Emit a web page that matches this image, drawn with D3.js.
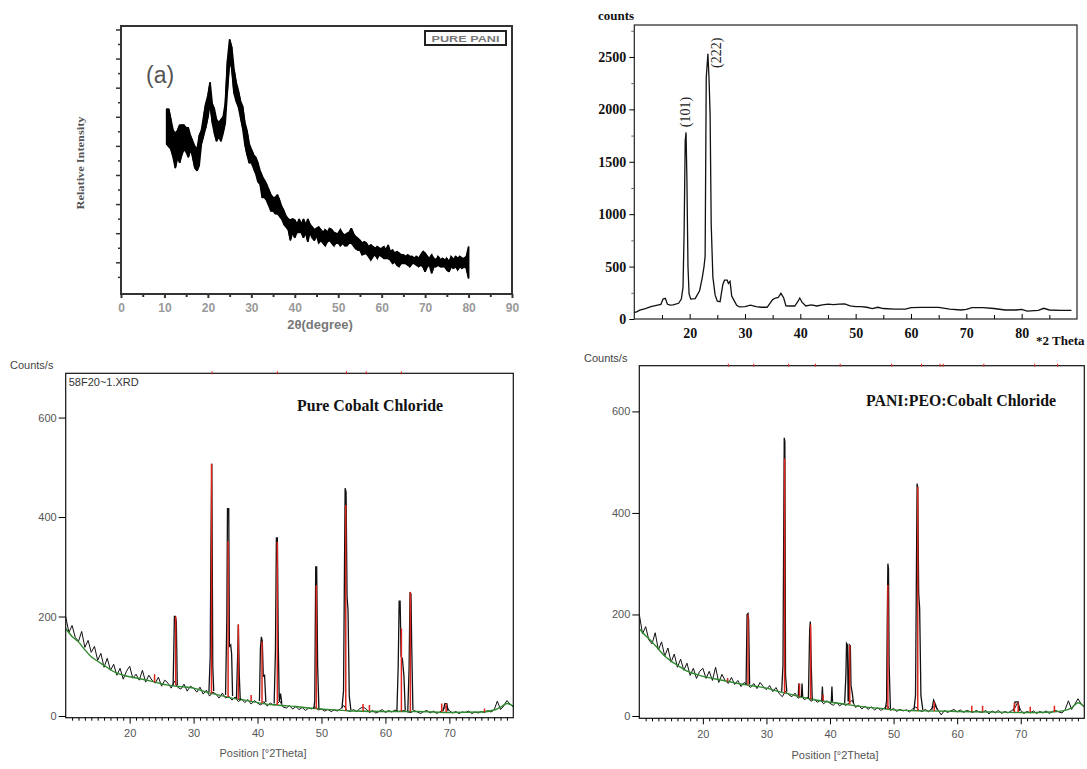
<!DOCTYPE html>
<html><head><meta charset="utf-8">
<script src="https://cdn.jsdelivr.net/npm/d3@7"></script>
<style>body{margin:0;background:#fff}svg{display:block}</style>
</head><body>
<svg id="c" width="1087" height="769"></svg>
<script>
// ---------- Panel (a): Pure PANI ----------
const paniTheta = d3.range(10.5, 80.001, 0.5);
const paniLow = [56,55,54,51,47,51,49,52,54,53, 51,54,51,47,46,48,56,59,62,66,
  71,64,60,57,59,57,60,64,76,87, 84,75,72,70,66,62,56,52,49,49,
  47,45,42,41,36,36,35,33,31,31, 30,30,29,28,26,25,24,20,23,21,
  23,23,23,21,23,19.5,23,21,20,22, 19,20,19,18,19.5,20,19,18,19,19,
  18,19,18,18,19,19,18,17,16.4,16.4, 14.6,15,15,14,12.7,14,14.6,13.3,14.6,14,
  13.3,13.3,13.3,12.7,11.4,12,10.8,10.2,11.4,11.4, 11.4,10.8,10.2,11.4,11.4,10.8,10.2,10.8,10.2,8.3,
  10.2,10.8,7.7,10.2,10.2,10.8,10.2,10.2,10.2,9, 8.3,10.2,9.6,10.2,9,10.2,9.6,10.2,9.6,5.8];
const paniHigh = [69,69,65,61,60,61,63,63,63,62, 62,59,57,55,54,59,61,66,71,74,
  79,71,69,65,64,65,66,71,87,95, 92,84,79,76,72,70,64,61,56,54,
  52,51,49,46,44,42.5,41,39,37,36, 36,37,35,32.6,31,29,28,27.6,28,27.6,
  26,28,26,28,25.7,28,26,25,24,24.5, 25,24,23,24,23,24.5,24,23,22.6,22.6,
  24,22.6,22,22.6,23,24.5,22.6,21.4,20.8,20, 19,19.5,19,17.7,18.3,17.7,17,17.7,17,17,
  17.7,16.4,18.3,15.8,16.4,15.2,15.8,15.2,14.6,14.6, 14,14.6,14,14,13.3,14,13.3,14.6,15.8,15.2,
  14,13.3,14.6,13.3,12.7,14,12.7,13.3,12.7,13.3, 12,14,12.7,14,13.3,14,13.3,13.3,14,17.7];
const paniXTicks = [0,10,20,30,40,50,60,70,80,90];
const paniXMinor = [5,15,25,35,45,55,65,75,85];

// ---------- Panel (b): counts vs 2 Theta ----------
const pvaTheta = [10,10.5,11,12,13,14,14.8,15.2,15.6,16,16.5,17,18,18.5,18.8,19.0,19.2,19.35,19.5,19.7,19.9,20.2,21,21.8,22.3,22.6,22.8,23.0,23.3,23.5,23.7,23.9,24.2,24.6,25,25.5,26,26.3,26.8,27.0,27.3,27.6,28,28.5,29,30,31,32,33,34,35,35.5,36,36.5,37,37.4,38,39,39.6,39.9,40.3,41,42,43,44,45,46,47,48,49,50,51,52,53,54,55,57,59,60,62,65,67,69,70,71,73,75,77,79,80,81,83,84,85,87,89];
const pvaCounts = [60,70,85,100,118,130,140,190,197,140,132,135,150,190,300,820,1700,1780,1350,500,240,190,195,270,400,500,600,2300,2530,2300,1950,900,400,230,170,165,330,370,370,340,360,220,180,130,115,118,132,118,112,112,185,200,205,245,200,125,124,124,170,200,160,124,134,124,134,142,138,142,145,125,118,118,112,100,112,100,95,95,108,111,111,95,86,92,108,108,100,86,86,92,76,83,102,86,83,83];
const pvaYTicks = [0,500,1000,1500,2000,2500];
const pvaYMinor = [250,750,1250,1750,2250,2750];
const pvaXTicks = [20,30,40,50,60,70,80];
const pvaXMinor = [15,25,35,45,55,65,75,85];
const pvaPeakLabels = ["(101)", "(222)"];
const pvaPeakTheta = [19.33, 24.93];
const pvaPeakCounts = [1830, 2395];

// ---------- Panel (c): Pure Cobalt Chloride ----------
const cobaltNoise = [200,168,182,158,150,170,138,152,128,140, 112,126,98,116,92,104,82,96,74,90,
  100,76,84,72,92,68,82,72,66,78, 60,72,66,56,70,58,54,64,50,60,
  56,48,58,44,52,40,48,44,36,46, 36,40,32,38,29,34,27,33,24,31,
  26,22,29,20,26,22,24,30,18,16, 21,14,19,13,17,11,16,14,19,12,
  14,10,13,9,12,10,15,21,11,9, 13,9,15,18,14,7,11,6,9,13,
  7,11,8,12,9,10,11,8,7,11, 8,5,9,11,6,10,5,8,12,20,
  11,6,9,5,8,7,10,5,8,6, 9,7,11,8,12,30,13,20,31,24, 18];
const cobaltBg = [[10,176],[11,160],[12,149],[13,133],[14,119],[15,110],[16,102],[17,93],[18,86],[19,82],[20,79],[22,74],[24,68],[26,62],[28,59],[30,56],[32,48],[34,42],[36,36],[38,32],[40,27],[42,23],[44,21],[46,19],[48,16],[50,14],[55,10],[60,9],[65,9],[70,7],[75,8],[77,12],[78,18],[79,25],[80,20]];
const cobaltPeaks = [
  [[26.8,62],[27.0,200],[27.15,200],[27.3,190],[27.45,62]],
  [[32.4,48],[32.6,120],[32.7,327],[32.85,507],[33.0,100],[33.15,50]],
  [[35.0,42],[35.2,195],[35.3,417],[35.5,417],[35.6,140],[35.8,143],[35.95,125],[36.1,40]],
  [[36.7,35],[36.9,125],[37.0,184],[37.15,80],[37.3,32]],
  [[40.3,30],[40.45,135],[40.6,159],[40.75,150],[40.9,80],[41.1,82],[41.3,28]],
  [[42.6,25],[42.8,130],[42.95,358],[43.1,358],[43.25,140],[43.4,30],[43.6,45],[43.8,25]],
  [[48.8,15],[48.95,30],[49.1,300],[49.25,300],[49.4,100],[49.6,15]],
  [[53.2,15],[53.45,50],[53.6,300],[53.7,458],[53.85,450],[54.0,240],[54.15,213],[54.35,40],[54.6,12]],
  [[61.8,10],[62.0,100],[62.15,231],[62.3,231],[62.45,120],[62.65,115],[62.9,80],[63.1,12]],
  [[63.5,10],[63.7,95],[63.85,249],[64.0,245],[64.1,150],[64.3,12]],
  [[69.0,10],[69.3,25],[69.6,25],[69.8,10]]
];
const cobaltSticks = [[23.9,68,84],[27.2,62,200],[32.8,45,507],[35.4,38,352],[37.0,33,184],[39.0,30,42],[40.7,26,150],[43.1,22,350],[49.2,14,263],[53.8,11,424],[56.5,10,24],[57.5,10,22],[62.5,9,176],[63.9,9,249],[68.8,8,25],[69.5,8,25],[75.5,8,15]];
const cobaltMarks = [32.9,43.1,53.9,57.0,62.5];

// ---------- Panel (d): PANI:PEO:Cobalt Chloride ----------
const compNoise = [200,162,176,150,142,164,130,146,118,134, 106,122,96,112,90,104,80,94,74,88,
  94,74,88,70,96,66,82,70,64,76, 62,70,58,66,62,56,64,54,66,58,
  52,60,48,56,44,38,49,42,38,45, 35,39,32,37,29,33,27,31,24,30,
  25,21,27,20,24,21,26,31,17,21, 14,19,13,18,12,16,11,15,21,11,
  15,9,13,10,12,8,14,18,11,9, 13,8,15,20,12,2,11,7,10,13,
  8,12,7,11,9,7,11,8,7,11, 4,10,6,11,5,9,6,10,14,26,
  11,5,9,6,10,5,9,6,10,5, 9,11,8,6,13,30,13,23,34,24, 18];
const compBg = [[10,172],[11,158],[12,146],[13,132],[14,118],[15,108],[16,100],[17,92],[18,86],[19,82],[20,78],[22,73],[24,68],[26,63],[28,59],[30,55],[32,48],[34,42],[36,36],[38,31],[40,27],[42,24],[44,20],[46,17],[48,15],[50,12],[55,10],[60,9],[65,8],[70,7],[75,8],[77,11],[78,16],[79,26],[80,18]];
const compPeaks = [
  [[26.8,62],[26.95,200],[27.1,202],[27.2,190],[27.35,62]],
  [[32.4,48],[32.6,100],[32.7,330],[32.8,548],[32.9,540],[33.0,80],[33.2,48]],
  [[35.0,40],[35.1,64],[35.2,40]],
  [[35.5,38],[35.6,64],[35.7,38]],
  [[36.6,35],[36.8,170],[36.9,186],[37.05,100],[37.2,33]],
  [[38.7,30],[38.8,58],[38.9,30]],
  [[40.2,28],[40.3,58],[40.4,28]],
  [[42.3,25],[42.5,80],[42.6,143],[42.75,140],[42.85,30],[42.95,30],[43.05,140],[43.2,138],[43.3,60],[43.5,45],[43.7,25]],
  [[48.7,14],[48.9,30],[49.0,180],[49.1,300],[49.2,290],[49.3,100],[49.5,14]],
  [[53.2,12],[53.45,40],[53.6,300],[53.7,458],[53.8,450],[53.95,241],[54.1,212],[54.3,40],[54.6,12]],
  [[56.0,12],[56.3,31],[56.6,22],[56.9,12]],
  [[68.9,10],[69.1,28],[69.6,28],[69.8,10]]
];
const compSticks = [[23.9,68,75],[27.1,62,200],[32.85,45,507],[35.2,38,64],[36.95,33,180],[38.9,30,42],[43.1,23,140],[49.1,14,258],[53.8,11,451],[56.4,10,28],[62.3,9,20],[64.0,9,20],[69.0,8,26],[69.6,8,26],[71.5,8,18],[75.3,8,20]];
const compMarks = [24.0,28.0,33.5,37.7,41.6,49.7,54.4,57.3,57.8,64.2,72.2,75.8];

const xrdYTicks = [0,200,400,600];
const xrdXTicks = [20,30,40,50,60,70];

// ================= drawing =================
const svg = d3.select('#c');
const SANS = 'Liberation Sans, Arial, sans-serif';
const SERIF = 'Liberation Serif, Times New Roman, serif';

// ---- Panel (a) ----
(function(){
  const x = d3.scaleLinear().domain([0,90]).range([121,512]);
  const y = d3.scaleLinear().domain([0,100]).range([294,26]);
  const g = svg.append('g');
  const data = paniTheta.map((t,i)=>[t, paniLow[i], paniHigh[i]]);
  g.append('path').datum(data)
    .attr('d', d3.area().x(d=>x(d[0])).y0(d=>y(d[1])).y1(d=>y(d[2])))
    .attr('fill','#000').attr('stroke','#000').attr('stroke-width',1.6).attr('stroke-linejoin','bevel');
  // zig-zag through envelope for a noisy texture
  g.append('path').datum(data)
    .attr('d', 'M' + data.map((d,i)=>`${x(d[0])},${y(i%2?d[1]:d[2])}L${x(d[0])},${y(i%2?d[2]:d[1])}`).join('L'))
    .attr('fill','none').attr('stroke','#000').attr('stroke-width',1.2);
  g.append('rect').attr('x',121).attr('y',26).attr('width',391).attr('height',268)
    .attr('fill','none').attr('stroke','#333').attr('stroke-width',2);
  const xa = g.append('g').attr('transform','translate(0,294)')
    .call(d3.axisBottom(x).tickValues(paniXTicks).tickSize(4).tickPadding(5));
  xa.select('.domain').remove();
  xa.selectAll('line').attr('stroke','#333').attr('stroke-width',2);
  xa.selectAll('text').attr('font-family',SANS).attr('font-size',12).attr('font-weight','bold').attr('fill','#999');
  const xm = g.append('g').attr('transform','translate(0,294)')
    .call(d3.axisBottom(x).tickValues(paniXMinor).tickSize(3).tickFormat(''));
  xm.select('.domain').remove();
  xm.selectAll('line').attr('stroke','#333').attr('stroke-width',2);
  const ya = g.append('g').attr('transform','translate(121,0)')
    .call(d3.axisLeft(y).tickValues(d3.range(11.83,100,10.86)).tickSize(5).tickFormat(''));
  ya.select('.domain').remove();
  ya.selectAll('line').attr('stroke','#333').attr('stroke-width',1.5);
  const ym = g.append('g').attr('transform','translate(121,0)')
    .call(d3.axisLeft(y).tickValues(d3.range(6.4,100,10.86)).tickSize(3).tickFormat(''));
  ym.select('.domain').remove();
  ym.selectAll('line').attr('stroke','#333').attr('stroke-width',1.5);
  g.append('text').attr('x',320).attr('y',329).attr('text-anchor','middle')
    .attr('font-family',SANS).attr('font-size',13).attr('font-weight','bold').attr('fill','#777').text('2θ(degree)');
  g.append('text').attr('transform','translate(84,163) rotate(-90)').attr('text-anchor','middle')
    .attr('font-family',SERIF).attr('font-size',11).attr('font-weight','bold').attr('fill','#555')
    .attr('textLength',93).attr('lengthAdjust','spacingAndGlyphs').text('Relative Intensity');
  g.append('text').attr('x',146).attr('y',83).attr('font-family',SANS).attr('font-size',23).attr('fill','#555').text('(a)');
  g.append('rect').attr('x',425).attr('y',31).attr('width',81).attr('height',14)
    .attr('fill','#fff').attr('stroke','#222').attr('stroke-width',2);
  g.append('text').attr('x',465.5).attr('y',41.5).attr('text-anchor','middle')
    .attr('font-family',SANS).attr('font-size',9).attr('font-weight','bold').attr('fill','#777')
    .attr('textLength',68).attr('lengthAdjust','spacingAndGlyphs').text('PURE PANI');
})();

// ---- Panel (b) ----
(function(){
  const x = d3.scaleLinear().domain([10,90]).range([634.3,1077]);
  const y = d3.scaleLinear().domain([0,2805]).range([319,25]);
  const g = svg.append('g');
  g.append('rect').attr('x',634.3).attr('y',25).attr('width',1077-634.3).attr('height',294)
    .attr('fill','none').attr('stroke','#222').attr('stroke-width',1.2);
  g.append('path').datum(pvaTheta.map((t,i)=>[t,pvaCounts[i]]))
    .attr('d', d3.line().x(d=>x(d[0])).y(d=>y(d[1])))
    .attr('fill','none').attr('stroke','#111').attr('stroke-width',1.3);
  const ya = g.append('g').attr('transform','translate(634.3,0)')
    .call(d3.axisLeft(y).tickValues(pvaYTicks).tickFormat(d3.format('d')).tickSize(5).tickPadding(3));
  ya.select('.domain').remove();
  ya.selectAll('text').attr('font-family',SERIF).attr('font-size',14).attr('font-weight','bold').attr('fill','#111');
  const ym = g.append('g').attr('transform','translate(634.3,0)')
    .call(d3.axisLeft(y).tickValues(pvaYMinor).tickSize(3).tickFormat(''));
  ym.select('.domain').remove();
  ym.selectAll('line').attr('stroke','#666');
  const xa = g.append('g').attr('transform','translate(0,319)')
    .call(d3.axisBottom(x).tickValues(pvaXTicks).tickSizeInner(-5).tickSizeOuter(0).tickPadding(9));
  xa.select('.domain').remove();
  xa.selectAll('text').attr('font-family',SERIF).attr('font-size',14).attr('font-weight','bold').attr('fill','#111');
  const xm = g.append('g').attr('transform','translate(0,319)')
    .call(d3.axisBottom(x).tickValues(pvaXMinor).tickSizeInner(-4).tickSizeOuter(0).tickFormat(''));
  xm.select('.domain').remove();
  g.append('text').attr('x',598).attr('y',20).attr('font-family',SERIF).attr('font-size',13).attr('font-weight','bold').attr('fill','#111').text('counts');
  g.append('text').attr('x',1036).attr('y',345).attr('font-family',SERIF).attr('font-size',13).attr('font-weight','bold').attr('fill','#111').text('*2 Theta');
  g.selectAll('.plab').data(pvaPeakLabels).join('text').attr('class','plab')
    .attr('transform',(d,i)=>`translate(${x(pvaPeakTheta[i])},${y(pvaPeakCounts[i])}) rotate(-90)`)
    .attr('dominant-baseline','central')
    .attr('font-family',SERIF).attr('font-size',14).attr('fill','#222').text(d=>d);
})();

// ---- Panels (c), (d) ----
function xrdPanel(o){
  const x = d3.scaleLinear().domain([10,80]).range([o.x0,o.x1]);
  const y = d3.scaleLinear().domain([0,o.ymax]).range([716,o.top]);
  const g = svg.append('g');
  g.append('clipPath').attr('id',o.id).append('rect')
    .attr('x',o.x0).attr('y',o.top).attr('width',o.x1-o.x0).attr('height',o.axisY-o.top);
  const p = g.append('g').attr('clip-path',`url(#${o.id})`);
  const line = d3.line().x(d=>x(d[0])).y(d=>y(d[1]));
  p.append('path').datum(o.noise.map((v,i)=>[10+i*0.5,v])).attr('d',line)
    .attr('fill','none').attr('stroke','#111').attr('stroke-width',1);
  p.append('path').datum(o.bg).attr('d',d3.line().x(d=>x(d[0])).y(d=>y(d[1])).curve(d3.curveMonotoneX))
    .attr('fill','none').attr('stroke','#2f8a2f').attr('stroke-width',1.4);
  p.selectAll('.pk').data(o.peaks).join('path').attr('class','pk').attr('d',line)
    .attr('fill','none').attr('stroke','#111').attr('stroke-width',1.3);
  p.selectAll('.st').data(o.sticks).join('line').attr('class','st')
    .attr('x1',d=>x(d[0])).attr('x2',d=>x(d[0])).attr('y1',d=>y(d[1])).attr('y2',d=>y(d[2]))
    .attr('stroke','#e0241c').attr('stroke-width',1.5);
  g.append('rect').attr('x',o.x0).attr('y',o.top).attr('width',o.x1-o.x0).attr('height',o.axisY-o.top)
    .attr('fill','none').attr('stroke','#111').attr('stroke-width',1.2);
  g.selectAll('.mk').data(o.marks).join('line').attr('class','mk')
    .attr('x1',d=>x(d)).attr('x2',d=>x(d)).attr('y1',o.top-2).attr('y2',o.top+1)
    .attr('stroke','#e0241c').attr('stroke-width',1);
  const ya = g.append('g').attr('transform',`translate(${o.x0},0)`)
    .call(d3.axisLeft(y).tickValues(xrdYTicks).tickSize(7).tickPadding(2));
  ya.select('.domain').remove();
  ya.selectAll('text').attr('font-family',SANS).attr('font-size',11).attr('fill','#555');
  const xa = g.append('g').attr('transform',`translate(0,${o.axisY})`)
    .call(d3.axisBottom(x).tickValues(xrdXTicks).tickSize(6).tickPadding(6));
  xa.select('.domain').remove();
  xa.selectAll('text').attr('font-family',SANS).attr('font-size',11).attr('fill','#555');
  const xm = g.append('g').attr('transform',`translate(0,${o.axisY})`)
    .call(d3.axisBottom(x).tickValues(d3.range(11,80,1).filter(v=>v%10!==0)).tickSize(3).tickFormat(''));
  xm.select('.domain').remove();
  g.append('text').attr('x',o.countsX).attr('y',o.countsY).attr('font-family',SANS).attr('font-size',11).attr('fill','#444').text('Counts/s');
  g.append('text').attr('x',(o.x0+o.x1)/2 + o.posDx).attr('y',o.posY).attr('text-anchor','middle')
    .attr('font-family',SANS).attr('font-size',11).attr('fill','#555').text('Position [°2Theta]');
  g.append('text').attr('x',o.titleX).attr('y',o.titleY).attr('font-family',SERIF).attr('font-size',17).attr('font-weight','bold')
    .attr('fill','#111').attr('textLength',o.titleW).attr('lengthAdjust','spacingAndGlyphs').text(o.title);
  if (o.file) g.append('text').attr('x',o.x0+3).attr('y',386).attr('font-family',SANS).attr('font-size',11).attr('fill','#333').text(o.file);
}

xrdPanel({id:'clipC', x0:65.7, x1:513.3, top:373.3, axisY:717.7, ymax:689,
  noise:cobaltNoise, bg:cobaltBg, peaks:cobaltPeaks, sticks:cobaltSticks, marks:cobaltMarks,
  countsX:10, countsY:369, posDx:-26.5, posY:757, title:'Pure Cobalt Chloride', titleX:297, titleY:411, titleW:146,
  file:'58F20~1.XRD'});
xrdPanel({id:'clipD', x0:639.3, x1:1084.3, top:365.7, axisY:718.3, ymax:690,
  noise:compNoise, bg:compBg, peaks:compPeaks, sticks:compSticks, marks:compMarks,
  countsX:584, countsY:362, posDx:-26.8, posY:759, title:'PANI:PEO:Cobalt Chloride', titleX:866, titleY:406, titleW:190,
  file:null});
</script>
</body></html>
